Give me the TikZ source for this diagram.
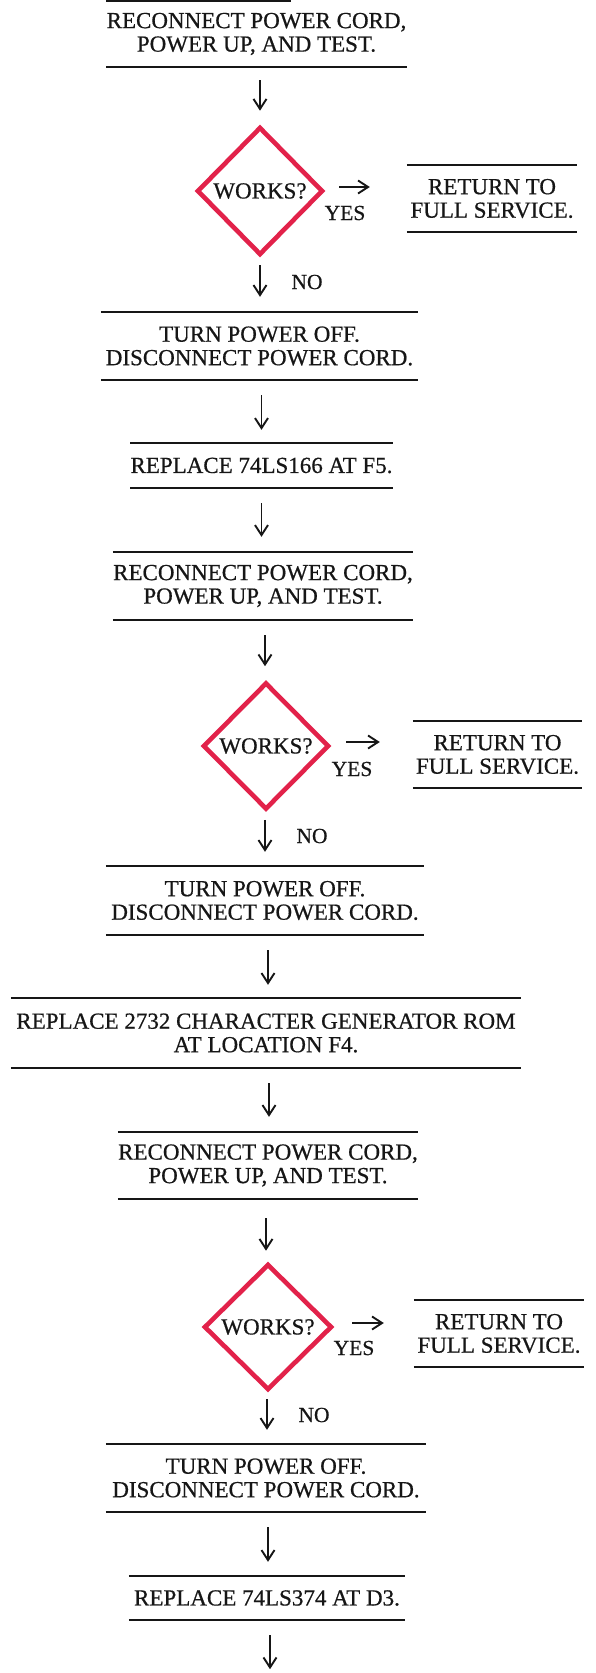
\documentclass[tikz,border=0pt]{standalone}
\usepackage{fontspec}
\setmainfont[FakeBold=0.6]{Liberation Serif}
\usetikzlibrary{shapes.geometric,arrows.meta,calc}
\definecolor{wred}{RGB}{226,34,74}
\definecolor{ink}{RGB}{22,22,22}
\begin{document}
\begin{tikzpicture}[x=1pt,y=-1pt,
  every node/.style={text=ink, font=\fontsize{23}{23.5}\selectfont},
  stepbox/.style={rectangle, inner sep=0pt, align=center},
  decision/.style={diamond, draw=wred, line width=4.6pt, inner sep=0pt, minimum width=126pt, minimum height=128pt},
  rule/.style={draw=ink, line width=1.9pt},
  arr/.style={draw=ink, line width=1.9pt, -{Straight Barb[length=10pt,width=13pt,line width=1.9pt]}},
  lab/.style={font=\fontsize{21.5}{24}\selectfont}]
\fill[white] (0,0) rectangle (596,1673);
\useasboundingbox (0,0) rectangle (596,1673);

% steps
\node[stepbox, minimum width=297pt, minimum height=66pt] (B0) at (256.5,34) {RECONNECT POWER CORD,\\POWER UP, AND TEST.};
\node[decision] (D1) at (260,191) {WORKS?};
\node[stepbox, minimum width=170pt, minimum height=67pt] (R1) at (492,198.5) {RETURN TO\\FULL SERVICE.};
\node[stepbox, minimum width=317pt, minimum height=68pt] (B1) at (259.5,346) {TURN POWER OFF.\\DISCONNECT POWER CORD.};
\node[stepbox, minimum width=253pt, minimum height=45pt] (B2) at (261.5,465.5) {REPLACE 74LS166 AT F5.};
\node[stepbox, minimum width=298pt, minimum height=68pt] (B3) at (263,586) {RECONNECT POWER CORD,\\POWER UP, AND TEST.};
\node[decision, minimum height=127pt] (D2) at (266,746) {WORKS?};
\node[stepbox, minimum width=169pt, minimum height=67pt] (R2) at (497.5,754.5) {RETURN TO\\FULL SERVICE.};
\node[stepbox, minimum width=318pt, minimum height=69pt] (B4) at (265,900.5) {TURN POWER OFF.\\DISCONNECT POWER CORD.};
\node[stepbox, minimum width=510pt, minimum height=70pt] (B5) at (266,1033) {REPLACE 2732 CHARACTER GENERATOR ROM\\AT LOCATION F4.};
\node[stepbox, minimum width=296pt, minimum height=67pt] (B6) at (268,1165.5) {RECONNECT POWER CORD,\\POWER UP, AND TEST.};
\node[decision, minimum width=128pt, minimum height=126pt] (D3) at (268,1327) {WORKS?};
\node[stepbox, minimum width=170pt, minimum height=67pt] (R3) at (499,1333.5) {RETURN TO\\FULL SERVICE.};
\node[stepbox, minimum width=320pt, minimum height=68pt] (B7) at (266,1478) {TURN POWER OFF.\\DISCONNECT POWER CORD.};
\node[stepbox, minimum width=276pt, minimum height=44pt] (B8) at (267,1598) {REPLACE 74LS374 AT D3.};

% rules above and below the steps
\draw[rule] (B0.north west) -- ++(185,0);
\draw[rule] (B0.south west) -- (B0.south east);
\foreach \n in {R1,B1,B2,B3,R2,B4,B5,B6,R3,B7,B8}{
  \draw[rule] (\n.north west) -- (\n.north east);
  \draw[rule] (\n.south west) -- (\n.south east);
}

% labels
\node[lab] (yes1) at (345,213) {YES};
\node[lab] (no1) at (307,282) {NO};
\node[lab] (yes2) at (352,769) {YES};
\node[lab] (no2) at (312,836) {NO};
\node[lab] (yes3) at (354,1348) {YES};
\node[lab] (no3) at (314,1415) {NO};

% connectors
\draw[arr] ($(D1.north |- B0.south)+(0,13)$) -- ($(D1.north)+(0,-14)$);
\draw[arr] ($(D1.south)+(0,8)$) -- ($(D1.south |- B1.north)+(0,-15)$);
\draw[arr] ($(D1.east)+(14,-4)$) -- ($(R1.west |- D1.east)+(-37,-4)$);
\draw[arr] ($(B2.north |- B1.south)+(0,15)$) -- ($(B2.north)+(0,-13)$);
\draw[arr] ($(B2.south)+(0,15)$) -- ($(B2.south |- B3.north)+(0,-15)$);
\draw[arr] ($(D2.north |- B3.south)+(-1,15)$) -- ($(D2.north)+(-1,-14)$);
\draw[arr] ($(D2.south)+(-1,8)$) -- ($(D2.south |- B4.north)+(-1,-14)$);
\draw[arr] ($(D2.east)+(15,-4)$) -- ($(R2.west |- D2.east)+(-33,-4)$);
\draw[arr] ($(B4.south)+(3,15)$) -- ($(B4.south |- B5.north)+(3,-13)$);
\draw[arr] ($(B6.north |- B5.south)+(1,15)$) -- ($(B6.north)+(1,-15)$);
\draw[arr] ($(D3.north |- B6.south)+(-2,19)$) -- ($(D3.north)+(-2,-11)$);
\draw[arr] ($(D3.south)+(-1,7)$) -- ($(D3.south |- B7.north)+(-1,-14)$);
\draw[arr] ($(D3.east)+(18,-4)$) -- ($(R3.west |- D3.east)+(-30,-4)$);
\draw[arr] ($(B7.south)+(2,15)$) -- ($(B7.south |- B8.north)+(2,-14)$);
\coordinate (endpt) at ($(B8.south)+(3,49)$);
\draw[arr] ($(B8.south)+(3,15)$) -- (endpt);
\end{tikzpicture}
\end{document}
